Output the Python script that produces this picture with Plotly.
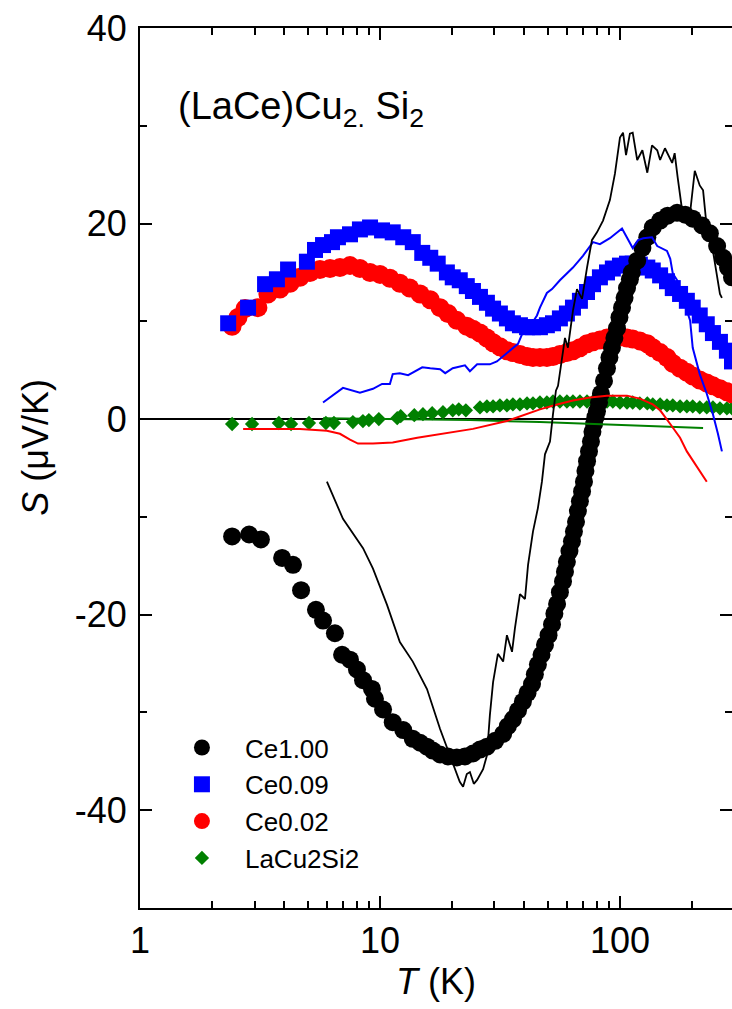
import plotly.graph_objects as go
import math

# ---------------- data ----------------
# Ce1.00 (black circles)
T_ce100 = [2.42,2.85,3.19,3.91,4.34,4.69,5.41,5.79,6.49,6.95,
           7.50,8.02,8.50,9.26,9.53,10.3,11.3,12.5,13.7,14.7,
           15.7,16.6,17.8,19.2,20.9,22.6,24.4,26.1,27.9,30.2,
           32.6,34.1,35.8,37.6,39.4,41.2,43.0,44.2,45.5,47.1,
           48.7,50.4,52.1,53.3,54.7,56.2,57.9,59.0,60.1,61.6,
           63.1,64.3,65.6,66.8,68.1,69.5,70.8,71.8,72.9,74.3,
           75.7,76.8,78.0,79.0,80.2,81.8,83.3,85.8,88.3,90.4,
           92.6,94.8,97.2,99.5,102,104.5,107,110,112,118,
           124,130,137,147,158,173,187,201,220,237,
           254,269,282,293]
S_ce100 = [-12.0,-11.8,-12.3,-14.2,-14.9,-17.5,-19.5,-20.6,-21.9,-24.1,
           -24.6,-25.6,-26.7,-27.6,-28.6,-29.7,-31.0,-31.8,-32.7,-33.1,
           -33.5,-33.9,-34.3,-34.5,-34.6,-34.5,-34.2,-33.8,-33.5,-32.9,
           -32.2,-31.4,-30.7,-29.8,-28.9,-28.0,-27.1,-26.1,-25.1,-24.1,
           -23.1,-22.1,-21.0,-19.9,-18.9,-17.7,-16.6,-15.6,-14.6,-13.5,
           -12.5,-11.5,-10.5,-9.4,-8.4,-7.4,-6.4,-5.3,-4.3,-3.3,
           -2.3,-1.3,-0.5,0.2,0.8,1.7,2.6,3.9,5.2,6.3,
           7.3,8.3,9.3,10.4,11.4,12.4,13.4,14.3,15.0,16.2,
           17.5,18.6,19.6,20.3,20.8,21.1,20.9,20.5,19.8,19.0,
           17.7,16.5,15.5,14.5]

# Ce0.09 (blue squares)
T_ce009 = [2.33,2.82,3.32,3.72,4.14,4.96,5.36,5.79,6.31,6.68,
           7.50,8.25,9.09,10.2,11.3,12.5,13.7,15.0,16.2,17.4,
           19.0,20.1,21.5,23.0,24.4,26.1,27.9,29.6,31.6,33.8,
           35.8,38.3,41.0,43.4,46.4,49.6,52.6,56.2,60.1,63.7,
           68.1,72.9,77.2,82.5,88.3,93.4,100,107,113,121,
           130,137,147,157,166,178,190,201,215,230,
           244,261,279,293]
S_ce009 = [9.8,11.4,13.8,14.3,15.3,16.1,17.3,17.8,18.1,18.6,
           18.9,19.4,19.6,19.3,19.1,18.6,18.1,17.0,16.5,15.9,
           15.0,14.5,14.2,13.6,13.1,12.5,11.9,11.3,10.8,10.3,
           9.8,9.6,9.4,9.4,9.4,9.6,9.8,10.3,10.8,11.4,
           12.1,13.0,13.8,14.5,15.0,15.4,15.7,15.9,15.9,15.8,
           15.5,15.2,14.7,14.1,13.4,12.8,12.1,11.4,10.6,9.7,
           8.8,7.9,7.0,5.9]

# Ce0.02 (red circles)
T_ce002 = [2.42,2.56,2.74,3.10,3.41,3.83,4.22,4.64,5.11,5.62,
           6.19,6.81,7.50,8.25,9.09,10.0,11.0,12.1,13.3,14.7,
           16.2,17.8,19.2,20.9,23.0,24.4,26.1,27.9,29.6,31.6,
           33.8,35.8,38.3,41.0,43.4,46.4,49.6,52.6,56.2,60.1,
           63.7,68.1,72.9,77.2,82.5,88.3,93.4,100,107,113,
           121,130,137,147,157,166,178,190,201,215,
           230,244,261,279,293]
S_ce002 = [9.5,10.4,11.3,11.4,12.8,13.3,13.9,14.5,15.0,15.3,
           15.4,15.5,15.7,15.4,15.0,14.8,14.4,13.9,13.4,12.8,
           12.2,11.4,10.8,10.1,9.5,9.2,8.8,8.3,7.8,7.4,
           7.0,6.8,6.6,6.4,6.3,6.3,6.3,6.4,6.6,6.8,
           7.0,7.3,7.7,7.9,8.1,8.3,8.4,8.4,8.3,8.2,
           8.0,7.7,7.3,6.8,6.3,5.7,5.2,4.8,4.4,4.0,
           3.7,3.4,3.1,2.8,2.6]

# LaCu2Si2 (green diamonds)
T_la = [2.42,2.93,3.79,4.26,5.06,5.95,6.43,7.71,8.49,8.99,
        9.89,11.8,12.2,13.9,15.1,16.5,18.3,20.1,21.3,22.8,
        26.1,27.9,29.6,31.6,33.8,35.8,38.3,41.0,43.4,46.4,
        49.6,52.6,56.2,60.1,63.7,68.1,72.9,77.2,82.5,88.3,
        93.4,100,107,113,121,130,137,147,157,166,
        178,190,201,215,230,244,261,279,293]
S_la = [-0.5,-0.5,-0.4,-0.5,-0.4,-0.4,-0.4,-0.3,-0.2,-0.1,
        0.0,0.1,0.3,0.4,0.5,0.6,0.7,0.9,1.0,0.9,
        1.2,1.3,1.3,1.4,1.4,1.5,1.5,1.6,1.6,1.7,
        1.7,1.8,1.8,1.8,1.8,1.8,1.8,1.8,1.8,1.8,
        1.8,1.7,1.7,1.7,1.6,1.6,1.5,1.5,1.4,1.4,
        1.3,1.3,1.3,1.2,1.2,1.2,1.1,1.1,1.1]

# thin lines (calculations)
T_line_ce100 = [6.01,7.01,8.50,9.35,10.7,12.1,13.7,15.7,17.8,19.6,
                21.5,22.2,23.0,23.7,24.6,25.4,26.9,27.9,28.7,29.6,
                31.0,32.6,33.8,35.5,36.5,38.3,40.2,41.4,43.4,45.5,
                47.3,48.7,51.1,52.6,54.1,55.2,59.0,60.7,63.7,66.2,
                69.5,72.9,76.4,80.2,85.0,90.8,95.3,100,103,106,
                110,113,118,124,130,136,143,147,154,165,
                169,174,181,196,205,215,222,230,244,261,266]
S_line_ce100 = [-6.4,-10.2,-13.2,-15.3,-19.0,-22.8,-24.8,-27.6,-31.7,-34.4,
                -37.1,-37.6,-36.3,-36.1,-37.3,-36.9,-35.8,-34.4,-30.3,-26.9,
                -24.0,-24.8,-22.1,-23.8,-21.4,-17.9,-18.4,-14.9,-11.5,-9.1,
                -6.4,-3.6,-2.3,0.5,2.9,3.4,8.3,7.3,11.1,13.3,
                12.3,15.5,18.3,19.1,20.3,22.4,25.1,28.8,29.3,27.0,
                29.2,29.3,26.5,27.5,25.2,28.0,27.5,26.5,27.7,26.2,
                27.2,24.7,21.6,21.1,25.4,23.9,23.4,19.6,17.2,12.8,12.4]

T_line_ce009 = [5.79,7.01,8.25,9.35,10.2,11.0,11.3,12.1,13.1,15.0,
                16.2,17.8,18.7,20.1,22.6,23.7,25.4,28.7,30.7,33.8,
                35.5,37.6,39.1,42.2,45.1,46.4,49.6,52.1,56.2,63.7,
                70.1,77.2,82.5,90.8,102,107,113,119,125,136,
                143,157,162,166,173,190,196,201,215,230,
                244,256,266]
S_line_ce009 = [1.7,3.2,2.7,3.1,3.6,3.6,4.6,4.7,4.5,5.3,
                5.2,5.1,4.7,5.2,5.5,4.9,5.6,5.6,5.9,6.8,
                7.2,7.7,8.7,9.5,10.6,11.4,12.9,13.3,14.2,15.5,
                16.7,18.1,17.9,18.5,19.5,18.5,17.5,18.3,18.5,18.6,
                17.7,17.2,16.4,14.9,14.2,11.1,10.1,7.3,4.6,2.6,
                0.5,-1.5,-3.3]

T_line_ce002 = [2.69,3.38,4.64,6.01,6.81,7.50,8.10,9.35,11.3,14.3,
                17.8,24.4,33.8,41.0,46.4,54.7,63.7,75.0,88.3,107,
                121,137,147,162,178,190,215,230]
S_line_ce002 = [-1.0,-1.0,-1.0,-1.2,-1.5,-2.1,-2.5,-2.5,-2.4,-1.9,
                -1.5,-1.0,-0.2,0.5,1.0,1.5,1.9,2.2,2.4,2.4,
                2.1,1.5,0.9,-0.5,-1.9,-3.3,-5.3,-6.4]

T_line_la = [5.79,12.1,23.7,46.4,82.5,133,222]
S_line_la = [0.1,0.0,-0.1,-0.3,-0.5,-0.7,-0.9]

X_TICKS = [1, 10, 100]
X_TICK_TEXT = ["1", "10", "100"]
X_MINOR = [2,3,4,5,6,7,8,9,20,30,40,50,60,70,80,90,200,300]
Y_TICKS = [-40, -20, 0, 20, 40]
Y_TICK_TEXT = ["-40", "-20", "0", "20", "40"]

FONT = "Liberation Sans, Arial, sans-serif"

fig = go.Figure()

# marker series (drawn first)
fig.add_trace(go.Scatter(x=T_la, y=S_la, mode="markers", name="LaCu2Si2",
                         legendrank=4,
                         marker=dict(symbol="diamond", size=11, color="#008000")))
fig.add_trace(go.Scatter(x=T_ce002, y=S_ce002, mode="markers", name="Ce0.02",
                         legendrank=3,
                         marker=dict(symbol="circle", size=19, color="#FF0000")))
fig.add_trace(go.Scatter(x=T_ce009, y=S_ce009, mode="markers", name="Ce0.09",
                         legendrank=2,
                         marker=dict(symbol="square", size=16, color="#0000FF")))
fig.add_trace(go.Scatter(x=T_ce100, y=S_ce100, mode="markers", name="Ce1.00",
                         legendrank=1,
                         marker=dict(symbol="circle", size=18, color="#000000")))

# thin lines
fig.add_trace(go.Scatter(x=T_line_la, y=S_line_la, mode="lines", showlegend=False,
                         line=dict(color="#008000", width=2)))
fig.add_trace(go.Scatter(x=T_line_ce002, y=S_line_ce002, mode="lines", showlegend=False,
                         line=dict(color="#FF0000", width=2)))
fig.add_trace(go.Scatter(x=T_line_ce009, y=S_line_ce009, mode="lines", showlegend=False,
                         line=dict(color="#0000FF", width=2)))
fig.add_trace(go.Scatter(x=T_line_ce100, y=S_line_ce100, mode="lines", showlegend=False,
                         line=dict(color="#000000", width=1.8)))

# helper trace for the right-hand tick axis
fig.add_trace(go.Scatter(x=[1], y=[0], yaxis="y2", mode="markers", showlegend=False,
                         marker=dict(opacity=0), hoverinfo="skip"))

axis_common = dict(showgrid=False, linecolor="black", linewidth=2,
                   tickcolor="black", tickwidth=2, ticklen=12,
                   tickfont=dict(family=FONT, size=36, color="black"))

fig.update_layout(
    width=732, height=1009,
    margin=dict(l=140, r=0, t=28, b=101),
    paper_bgcolor="white", plot_bgcolor="white",
    font=dict(family=FONT, color="black"),
    showlegend=True,
    legend=dict(x=0.032, y=0.209, xanchor="left", yanchor="top",
                bgcolor="rgba(0,0,0,0)", itemwidth=76,
                font=dict(family=FONT, size=26, color="black")),
    xaxis=dict(type="log", range=[0, math.log10(293)],
               tickvals=X_TICKS, ticktext=X_TICK_TEXT, ticks="inside",
               showline=True, mirror="ticks", zeroline=False,
               minor=dict(tickvals=X_MINOR, ticks="inside", ticklen=7,
                          tickwidth=2, tickcolor="black"),
               title=dict(text="<i>T</i> (K)", standoff=0,
                          font=dict(family=FONT, size=36, color="black")),
               **axis_common),
    yaxis=dict(range=[-50, 40], tickvals=Y_TICKS, ticktext=Y_TICK_TEXT,
               ticks="inside", showline=True, mirror=False,
               zeroline=True, zerolinecolor="black", zerolinewidth=2,
               minor=dict(dtick=10, ticks="inside", ticklen=7,
                          tickwidth=2, tickcolor="black"),
               ticklabelstandoff=4,
               **axis_common),
    yaxis2=dict(range=[-50, 40], overlaying="y", side="right", anchor="x",
                tickvals=Y_TICKS, showticklabels=False, ticks="inside",
                showline=False, zeroline=False, showgrid=False,
                tickcolor="black", tickwidth=2, ticklen=12,
                minor=dict(dtick=10, ticks="inside", ticklen=7,
                           tickwidth=2, tickcolor="black")),
    annotations=[
        dict(text="(LaCe)Cu<sub>2.</sub> Si<sub>2</sub>",
             xref="paper", yref="paper", x=0.060, y=0.937,
             xanchor="left", yanchor="top", showarrow=False,
             font=dict(family=FONT, size=38, color="black")),
        dict(text="<i>S</i> (μV/K)", textangle=-90,
             xref="paper", yref="paper", x=-0.176, y=0.524,
             xanchor="center", yanchor="middle", showarrow=False,
             font=dict(family=FONT, size=36, color="black")),
    ],
)

fig.write_html("out.html")
